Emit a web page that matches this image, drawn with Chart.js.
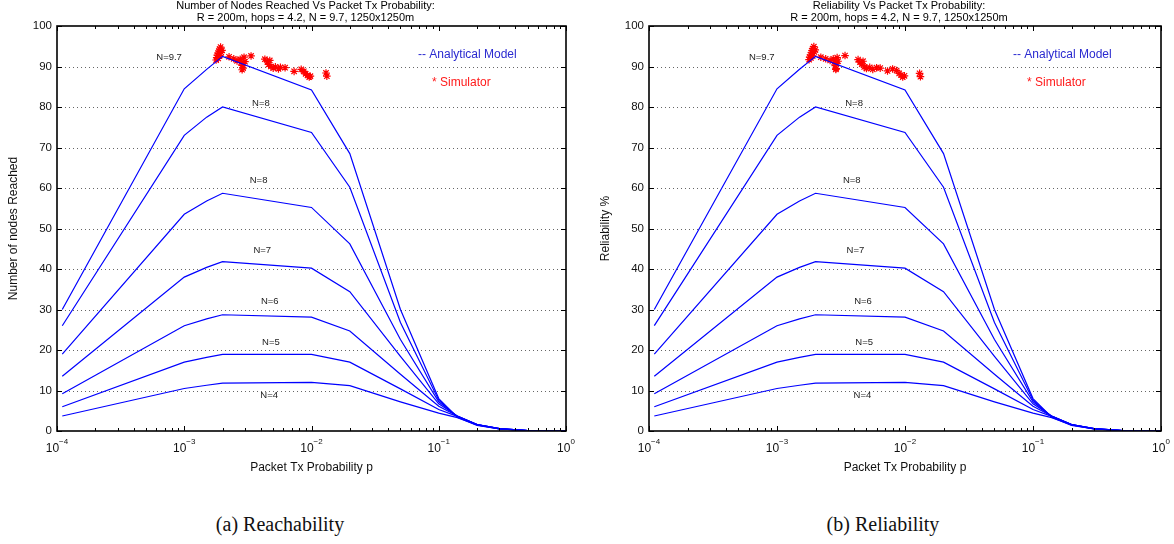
<!DOCTYPE html>
<html>
<head>
<meta charset="utf-8">
<script src="https://cdn.jsdelivr.net/npm/chart.js@4.4.0/dist/chart.umd.min.js"></script>
<style>
body { margin: 0; background: #fff; width: 1174px; height: 544px; overflow: hidden; position: relative; }
.box { position: absolute; top: 0; height: 490px; }
#boxA { left: 0; width: 590px; }
#boxB { left: 590px; width: 584px; }
.cap { position: absolute; top: 513px; font-family: "Liberation Serif", serif; font-size: 20px; color: #111;
       transform: translateX(-50%); white-space: nowrap; }
</style>
</head>
<body>
<div class="box" id="boxA"><canvas id="chartA"></canvas></div>
<div class="box" id="boxB"><canvas id="chartB"></canvas></div>
<div class="cap" style="left:280px">(a) Reachability</div>
<div class="cap" style="left:883px">(b) Reliability</div>
<script>
// 横轴采样点 p
const pValues = [1.1e-4, 1e-3, 1.5e-3, 2e-3, 1e-2, 2e-2, 0.05, 0.1, 0.14, 0.2, 0.3, 0.5, 1];

// 解析模型曲线（两幅图相同）
const curveN97 = [30.0, 84.5, 89.3, 92.5, 84.2, 68.5, 30.0, 8.0, 3.4, 1.4, 0.5, 0.1, 0];
const curveN8a = [26.0, 73.0, 77.5, 80.0, 73.7, 60.2, 26.8, 7.6, 3.5, 1.5, 0.5, 0.1, 0];
const curveN8b = [19.0, 53.5, 56.8, 58.7, 55.2, 46.2, 22.6, 7.2, 3.6, 1.6, 0.6, 0.1, 0];
const curveN7  = [13.5, 38.0, 40.4, 41.8, 40.2, 34.4, 18.4, 6.7, 3.7, 1.6, 0.6, 0.1, 0];
const curveN6  = [9.2, 26.0, 27.7, 28.7, 28.1, 24.7, 14.0, 6.1, 3.7, 1.6, 0.6, 0.1, 0];
const curveN5  = [6.0, 17.0, 18.2, 18.9, 18.9, 17.0, 10.4, 5.3, 3.6, 1.6, 0.6, 0.1, 0];
const curveN4  = [3.7, 10.5, 11.3, 11.8, 12.0, 11.2, 7.2, 4.4, 3.3, 1.5, 0.5, 0.1, 0];
const curves = [curveN97, curveN8a, curveN8b, curveN7, curveN6, curveN5, curveN4];

// 曲线标注
const curveLabels = ['N=9.7', 'N=8', 'N=8', 'N=7', 'N=6', 'N=5', 'N=4'];
const labelP = [7.6e-4, 4.0e-3, 3.84e-3, 4.1e-3, 4.7e-3, 4.8e-3, 4.65e-3];
const labelV = [92.3, 80.8, 61.8, 44.5, 32.1, 21.8, 8.7];

// 仿真点 (a)
const simP_a = [1.78e-3, 1.8e-3, 1.82e-3, 1.85e-3, 1.88e-3, 1.9e-3, 1.93e-3, 1.85e-3, 1.95e-3, 1.9e-3, 1.98e-3,
                2.25e-3, 2.45e-3, 2.6e-3,
                2.75e-3, 2.8e-3, 2.85e-3, 2.9e-3, 2.95e-3, 2.9e-3, 3.0e-3, 2.85e-3,
                3.35e-3,
                4.3e-3, 4.5e-3, 4.6e-3, 4.8e-3, 4.7e-3, 5.0e-3, 5.2e-3, 5.5e-3, 5.7e-3,
                6.2e-3, 7.3e-3,
                8.3e-3, 8.7e-3, 9.0e-3, 9.3e-3, 9.6e-3, 9.8e-3,
                1.3e-2, 1.32e-2];
const simV_a = [91.6, 92.2, 92.8, 93.3, 93.8, 94.3, 94.8, 92.0, 93.5, 92.7, 94.0,
                92.4, 91.9, 91.4,
                91.8, 91.0, 90.3, 89.6, 92.3, 90.8, 91.2, 89.2,
                92.6,
                91.8, 91.2, 90.5, 90.0, 91.5, 89.6, 89.9, 89.4, 89.8,
                89.7, 88.8,
                89.3, 88.8, 88.2, 87.8, 87.4, 87.6,
                88.4, 87.6];

// 仿真点 (b)
const simP_b = [1.78e-3, 1.8e-3, 1.83e-3, 1.86e-3, 1.88e-3, 1.9e-3, 1.94e-3, 1.84e-3, 1.96e-3, 1.9e-3, 1.99e-3,
                2.2e-3, 2.4e-3, 2.6e-3,
                2.75e-3, 2.8e-3, 2.85e-3, 2.9e-3, 2.95e-3, 2.9e-3, 3.0e-3, 2.88e-3,
                3.4e-3,
                4.3e-3, 4.45e-3, 4.6e-3, 4.8e-3, 4.7e-3, 5.0e-3, 5.3e-3, 5.6e-3, 6.0e-3,
                6.4e-3, 7.3e-3,
                8.0e-3, 8.6e-3, 9.0e-3, 9.3e-3, 9.6e-3, 9.9e-3,
                1.3e-2, 1.32e-2];
const simV_b = [91.7, 92.3, 92.9, 93.4, 93.9, 94.4, 94.9, 92.1, 93.6, 92.6, 94.1,
                92.3, 91.9, 91.5,
                91.9, 91.1, 90.2, 89.5, 92.2, 90.7, 91.3, 89.3,
                92.7,
                91.7, 91.1, 90.6, 89.9, 91.3, 89.5, 89.8, 89.3, 89.7,
                89.6, 88.9,
                89.4, 89.0, 88.3, 87.9, 87.4, 87.7,
                88.3, 87.5];

// 坐标轴刻度
const yTicks = [0, 10, 20, 30, 40, 50, 60, 70, 80, 90, 100];
const xTickExps = [-4, -3, -2, -1, 0];

const FONT = '"Liberation Sans", Arial, sans-serif';

// 边框、内向刻度、上标刻度标签、曲线标注与图例
const decorPlugin = {
    id: 'decor',
    beforeDatasetsDraw: function(chart) {
        // 虚点网格线
        const ctx = chart.ctx;
        const a = chart.chartArea;
        const y = chart.scales.y;
        ctx.save();
        ctx.strokeStyle = '#666';
        ctx.lineWidth = 1;
        ctx.setLineDash([1, 3]);
        ctx.beginPath();
        yTicks.slice(1, -1).forEach(v => {
            const py = Math.round(y.getPixelForValue(v)) + 0.5;
            ctx.moveTo(a.left, py); ctx.lineTo(a.right, py);
        });
        ctx.stroke();
        ctx.restore();
    },
    afterDraw: function(chart, args, opts) {
        const ctx = chart.ctx;
        const a = chart.chartArea;
        const x = chart.scales.x;
        const y = chart.scales.y;
        ctx.save();

        // 标题
        ctx.fillStyle = '#000';
        ctx.font = '11px ' + FONT;
        ctx.textAlign = 'center';
        ctx.textBaseline = 'middle';
        const cx = (a.left + a.right) / 2 - 6;
        ctx.fillText(opts.title[0], cx, 6);
        ctx.fillText(opts.title[1], cx, 17.5);

        // 内向刻度
        ctx.strokeStyle = '#000';
        ctx.lineWidth = 1;
        ctx.beginPath();
        for (let e = -4; e <= 0; e++) {
            for (let m = 1; m <= 9; m++) {
                const v = m * Math.pow(10, e);
                if (v > 1) break;
                const px = Math.round(x.getPixelForValue(v)) + 0.5;
                const len = m === 1 ? 5 : 3;
                ctx.moveTo(px, a.bottom); ctx.lineTo(px, a.bottom - len);
                ctx.moveTo(px, a.top); ctx.lineTo(px, a.top + len);
            }
        }
        yTicks.forEach(v => {
            const py = Math.round(y.getPixelForValue(v)) + 0.5;
            ctx.moveTo(a.left, py); ctx.lineTo(a.left + 5, py);
            ctx.moveTo(a.right, py); ctx.lineTo(a.right - 5, py);
        });
        ctx.stroke();

        // 边框
        ctx.lineWidth = 1.6;
        ctx.strokeRect(a.left, a.top, a.right - a.left, a.bottom - a.top);

        // x 轴刻度标签 10^k
        ctx.fillStyle = '#111';
        ctx.textBaseline = 'alphabetic';
        ctx.textAlign = 'left';
        xTickExps.forEach(k => {
            const px = x.getPixelForValue(Math.pow(10, k));
            ctx.font = '12px ' + FONT;
            const base = '10';
            const wb = ctx.measureText(base).width;
            ctx.font = '8px ' + FONT;
            const sup = k === 0 ? '0' : '\u2212' + Math.abs(k);
            const ws = ctx.measureText(sup).width;
            const left = px - (wb + ws) / 2;
            ctx.font = '12px ' + FONT;
            ctx.fillText(base, left, a.bottom + 21);
            ctx.font = '8px ' + FONT;
            ctx.fillText(sup, left + wb, a.bottom + 13);
        });

        // 曲线标注
        ctx.fillStyle = '#222';
        ctx.font = '9.5px ' + FONT;
        ctx.textAlign = 'center';
        ctx.textBaseline = 'middle';
        curveLabels.forEach((t, i) => {
            ctx.fillText(t, x.getPixelForValue(labelP[i]), y.getPixelForValue(labelV[i]));
        });

        // 图例
        ctx.textAlign = 'left';
        ctx.font = '12px ' + FONT;
        ctx.fillStyle = '#2a2ad0';
        ctx.fillText('-- Analytical Model', a.left + opts.legendX, a.top + 29);
        ctx.fillStyle = '#ff1a1a';
        ctx.fillText('* Simulator', a.left + opts.legendX + 14, a.top + 57);

        ctx.restore();
    }
};

function buildChart(canvasId, simP, simV, cfg) {
    const datasets = curves.map(c => ({
        type: 'line',
        data: c.map((v, i) => ({ x: pValues[i], y: v })),
        borderColor: '#0000ff',
        borderWidth: 1.2,
        pointRadius: 0,
        tension: 0,
        fill: false
    }));
    datasets.push({
        type: 'scatter',
        data: simV.map((v, i) => ({ x: simP[i], y: v })),
        pointStyle: 'star',
        pointRadius: 3.8,
        borderColor: '#ff0000',
        backgroundColor: '#ff0000',
        borderWidth: 1.2
    });

    return new Chart(document.getElementById(canvasId), {
        type: 'line',
        data: { datasets: datasets },
        options: {
            responsive: true,
            maintainAspectRatio: false,
            animation: false,
            layout: { padding: { top: 26, right: cfg.padRight, left: 0, bottom: 0 } },
            plugins: {
                legend: { display: false },
                tooltip: { enabled: false },
                decor: { title: cfg.title, legendX: cfg.legendX }
            },
            scales: {
                x: {
                    type: 'logarithmic',
                    min: 1e-4,
                    max: 1,
                    grid: { display: false, drawTicks: false },
                    border: { display: false },
                    ticks: { display: false },
                    title: {
                        display: true,
                        text: 'Packet Tx Probability p',
                        color: '#111',
                        font: { family: FONT, size: 12 },
                        padding: { top: 0, bottom: 15 }
                    },
                    afterFit: function(scale) { scale.height = 59; }
                },
                y: {
                    min: 0,
                    max: 100,
                    afterBuildTicks: function(scale) { scale.ticks = yTicks.map(v => ({ value: v })); },
                    grid: { display: false, drawTicks: false },
                    border: { display: false },
                    ticks: {
                        color: '#111',
                        padding: 5,
                        font: { family: FONT, size: 11.5 }
                    },
                    title: {
                        display: true,
                        text: cfg.yTitle,
                        color: '#111',
                        font: { family: FONT, size: 12 },
                        padding: { top: cfg.yTitlePad, bottom: 0 }
                    },
                    afterFit: function(scale) { scale.width = cfg.yWidth; }
                }
            }
        },
        plugins: [decorPlugin]
    });
}

const chartA = buildChart('chartA', simP_a, simV_a, {
    title: ['Number of Nodes Reached Vs Packet Tx Probability:', 'R = 200m, hops = 4.2, N = 9.7, 1250x1250m'],
    yTitle: 'Number of nodes Reached',
    yTitlePad: 6,
    yWidth: 57,
    padRight: 24,
    legendX: 361
});
const chartB = buildChart('chartB', simP_b, simV_b, {
    title: ['Reliability Vs Packet Tx Probability:', 'R = 200m, hops = 4.2, N = 9.7, 1250x1250m'],
    yTitle: 'Reliability %',
    yTitlePad: 8,
    yWidth: 59,
    padRight: 13,
    legendX: 364
});
</script>
</body>
</html>
